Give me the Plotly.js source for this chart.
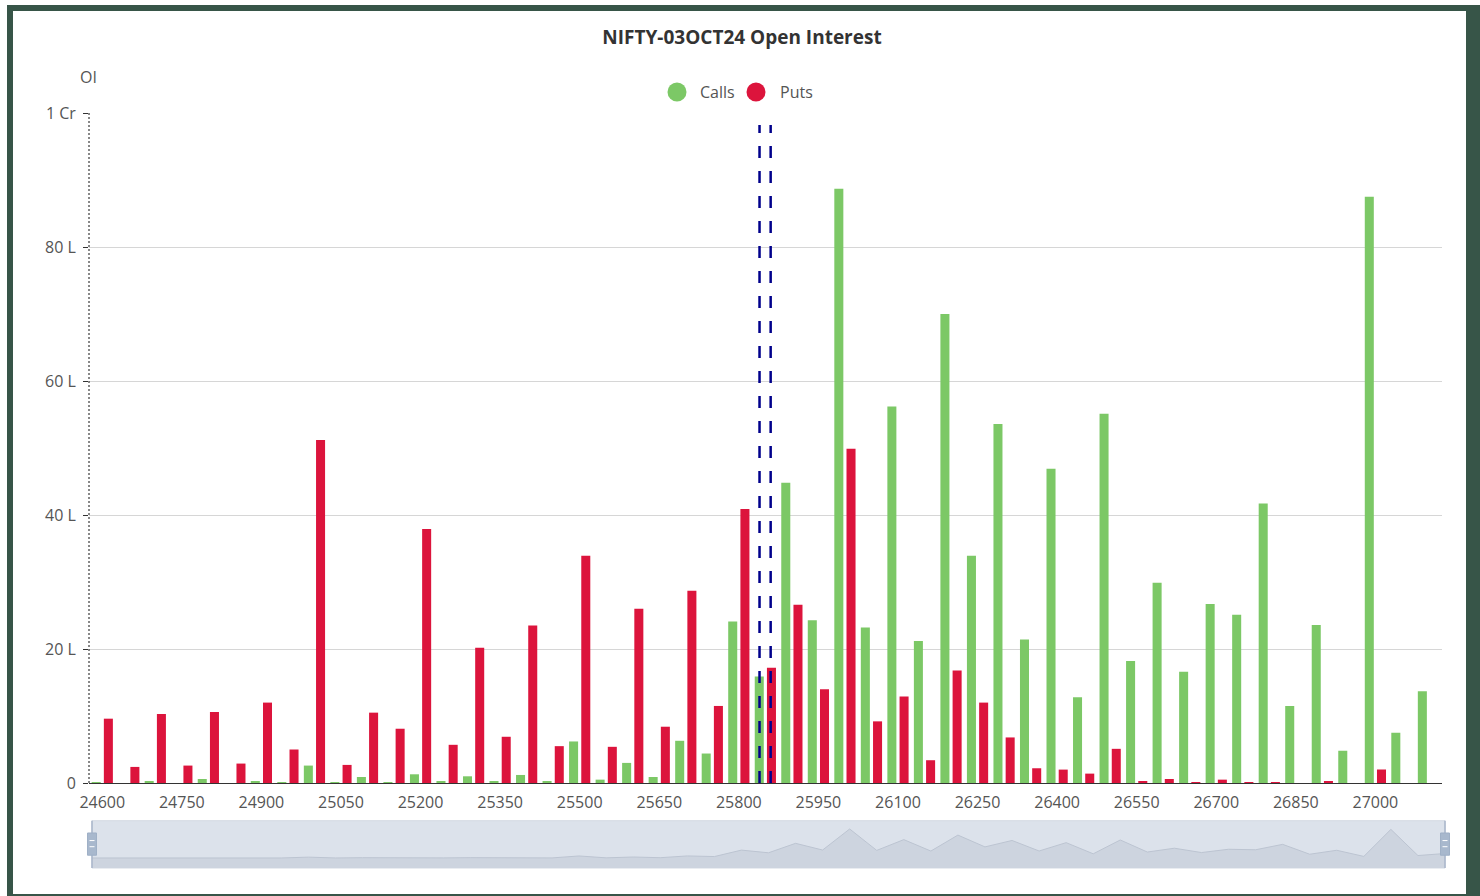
<!DOCTYPE html>
<html>
<head>
<meta charset="utf-8">
<script src="https://cdn.plot.ly/plotly-3.0.1.min.js"></script>
<style>
  html, body { margin: 0; padding: 0; width: 1480px; height: 896px; overflow: hidden; background: #ffffff; }
  #frame { position: absolute; left: 7px; top: 5px; width: 1473px; height: 891px; box-sizing: border-box;
           border-style: solid; border-color: #375548; border-width: 6px 14px 2px 6px; background: #ffffff; }
  #chart { position: absolute; left: 0; top: 0; width: 1480px; height: 896px; }
</style>
</head>
<body>
<div id="frame"></div>
<div id="chart"></div>
<script>
// ---- data (OI in lakhs) ----
const strikes = [24600, 24650, 24700, 24750, 24800, 24850, 24900, 24950, 25000, 25050,
                 25100, 25150, 25200, 25250, 25300, 25350, 25400, 25450, 25500, 25550,
                 25600, 25650, 25700, 25750, 25800, 25850, 25900, 25950, 26000, 26050,
                 26100, 26150, 26200, 26250, 26300, 26350, 26400, 26450, 26500, 26550,
                 26600, 26650, 26700, 26750, 26800, 26850, 26900, 26950, 27000, 27050, 27100];
const callsOI = [0.1, 0.0, 0.3, 0.0, 0.6, 0.0, 0.3, 0.1, 2.6, 0.1,
                 0.9, 0.1, 1.3, 0.3, 1.0, 0.25, 1.2, 0.25, 6.2, 0.5,
                 3.0, 0.9, 6.3, 4.4, 24.1, 15.9, 44.8, 24.3, 88.7, 23.2,
                 56.2, 21.2, 70.0, 33.9, 53.6, 21.4, 46.9, 12.8, 55.1, 18.2,
                 29.9, 16.6, 26.7, 25.1, 41.7, 11.5, 23.6, 4.8, 87.5, 7.5, 13.7];
const putsOI  = [9.6, 2.4, 10.3, 2.6, 10.6, 2.9, 12.0, 5.0, 51.2, 2.7,
                 10.5, 8.1, 37.9, 5.7, 20.2, 6.9, 23.5, 5.5, 33.9, 5.4,
                 26.0, 8.4, 28.7, 11.5, 40.9, 17.2, 26.6, 14.0, 49.9, 9.2,
                 12.9, 3.4, 16.8, 12.0, 6.8, 2.2, 2.0, 1.4, 5.1, 0.3,
                 0.6, 0.15, 0.5, 0.15, 0.15, 0.0, 0.3, 0.0, 2.0, 0.0, 0.0];
const tickStrikes = [24600, 24750, 24900, 25050, 25200, 25350, 25500, 25650, 25800,
                     25950, 26100, 26250, 26400, 26550, 26700, 26850, 27000];
const tickLabels = ['24600', '24750', '24900', '25050', '25200', '25350', '25500', '25650', '25800',
                    '25950', '26100', '26250', '26400', '26550', '26700', '26850', '27000'];
const yTickVals = [0, 20, 40, 60, 80, 100];
const yTickLabels = ['0', '20 L', '40 L', '60 L', '80 L', '1 Cr'];
const markLevels = [25839, 25860];   // spot / futures markers
const seriesNames = ['Calls', 'Puts'];

// ---- styles ----
const GREEN = '#7cc866';
const RED = '#dc143c';
const FONT = 'Open Sans, Noto Sans, sans-serif';
const LABEL = '#555555';

const halfStep = 25;
const boundaryTicks = tickStrikes.map(s => s - halfStep).concat([strikes[strikes.length - 1] + halfStep]);
const xRange = [strikes[0] - halfStep, strikes[strikes.length - 1] + halfStep];

const traces = [
  { type: 'bar', name: seriesNames[0], x: strikes, y: callsOI, marker: { color: GREEN },
    xaxis: 'x', yaxis: 'y', hoverinfo: 'x+y+name' },
  { type: 'bar', name: seriesNames[1], x: strikes, y: putsOI, marker: { color: RED },
    xaxis: 'x', yaxis: 'y', hoverinfo: 'x+y+name' },
  // data-zoom shadow
  { type: 'scatter', mode: 'lines', x: strikes, y: callsOI, xaxis: 'x2', yaxis: 'y2',
    fill: 'tozeroy', fillcolor: '#cdd4df', line: { color: '#bcc4d1', width: 1 },
    hoverinfo: 'skip', showlegend: false }
];

const shapes = [
  // slider background
  { type: 'rect', xref: 'x2 domain', yref: 'y2 domain', x0: 0, x1: 1, y0: 0, y1: 1,
    fillcolor: '#dce2eb', line: { color: '#d3d9e3', width: 1 }, layer: 'below' },
  // shadow band below zero
  { type: 'rect', xref: 'x2 domain', yref: 'y2', x0: 0, x1: 1, y0: -30.6, y1: 0,
    fillcolor: '#cdd4df', line: { width: 0 }, layer: 'below' },
  // slider edges
  { type: 'line', xref: 'x2 domain', yref: 'y2 domain', x0: 0, x1: 0, y0: 0, y1: 1,
    line: { color: '#a9b6ca', width: 1.5 } },
  { type: 'line', xref: 'x2 domain', yref: 'y2 domain', x0: 1, x1: 1, y0: 0, y1: 1,
    line: { color: '#a9b6ca', width: 1.5 } },
  // dotted y-axis line
  { type: 'line', xref: 'x domain', yref: 'y domain', x0: 0, x1: 0, y0: 0, y1: 1,
    line: { color: '#111111', width: 1, dash: '2px,2px' } }
];
// slider handles
[0, 1].forEach(function (ax) {
  shapes.push({ type: 'rect', xref: 'x2 domain', yref: 'y2 domain', xsizemode: 'pixel', xanchor: ax,
    x0: -4.5, x1: 4.5, y0: 0.27, y1: 0.74, fillcolor: '#a8b8cd', line: { color: '#9fb0c6', width: 1 } });
  [0.45, 0.58].forEach(function (yy) {
    shapes.push({ type: 'line', xref: 'x2 domain', yref: 'y2 domain', xsizemode: 'pixel', xanchor: ax,
      x0: -2.5, x1: 2.5, y0: yy, y1: yy, line: { color: '#ffffff', width: 1 } });
  });
});
// mark lines
markLevels.forEach(function (lv) {
  shapes.push({ type: 'line', xref: 'x', yref: 'y', x0: lv, x1: lv, y0: 0, y1: 98.2,
    line: { color: '#00008b', width: 2.5, dash: '12px,13px' } });
});
// legend symbols
const legendX = [(677 - 89) / 1356, (756 - 89) / 1356];
const legendY = (868 - 92) / 755;
[GREEN, RED].forEach(function (c, i) {
  shapes.push({ type: 'circle', xref: 'paper', yref: 'paper', xsizemode: 'pixel', ysizemode: 'pixel',
    xanchor: legendX[i], yanchor: legendY, x0: -9.5, x1: 9.5, y0: -9.5, y1: 9.5,
    fillcolor: c, line: { width: 0 } });
});

const annotations = [
  { text: seriesNames[0], xref: 'paper', yref: 'paper', x: (698 - 89) / 1356, y: legendY,
    xanchor: 'left', yanchor: 'middle', showarrow: false, font: { family: FONT, size: 16, color: LABEL } },
  { text: seriesNames[1], xref: 'paper', yref: 'paper', x: (778 - 89) / 1356, y: legendY,
    xanchor: 'left', yanchor: 'middle', showarrow: false, font: { family: FONT, size: 16, color: LABEL } },
  { text: 'OI', xref: 'paper', yref: 'paper', x: (88.5 - 89) / 1356, y: (868 - 77) / 755,
    xanchor: 'center', yanchor: 'middle', showarrow: false, font: { family: FONT, size: 16, color: LABEL } }
];

const layout = {
  width: 1480, height: 896, autosize: false,
  margin: { l: 89, r: 35, t: 113, b: 28, pad: 0 },
  paper_bgcolor: 'rgba(0,0,0,0)', plot_bgcolor: 'rgba(0,0,0,0)',
  font: { family: FONT, color: LABEL },
  title: { text: 'NIFTY-03OCT24 Open Interest', xref: 'container', yref: 'container',
    x: 742 / 1480, xanchor: 'center', y: 1 - 37 / 896, yanchor: 'middle',
    font: { family: FONT, size: 19, color: '#333333', weight: 'bold' } },
  showlegend: false,
  barmode: 'group', bargap: 0.08, bargroupgap: 0.26,
  xaxis: { domain: [0, 0.99757], range: xRange, anchor: 'y', type: 'linear',
    tickmode: 'array', tickvals: tickStrikes, ticktext: tickLabels,
    ticks: 'outside', ticklen: 5, tickcolor: 'rgba(0,0,0,0)',
    tickfont: { family: FONT, size: 16, color: LABEL },
    showline: true, linecolor: '#333333', linewidth: 1, showgrid: false, zeroline: false, fixedrange: true },
  xaxis3: { overlaying: 'x', anchor: 'y', range: xRange, type: 'linear',
    tickmode: 'array', tickvals: boundaryTicks, ticks: 'outside', ticklen: 6, tickcolor: '#333333',
    showticklabels: false, showline: false, showgrid: false, zeroline: false, fixedrange: true },
  yaxis: { domain: [85 / 755, 1], range: [0, 100], anchor: 'x',
    tickmode: 'array', tickvals: yTickVals, ticktext: yTickLabels,
    ticks: 'outside', ticklen: 5, tickcolor: '#333333', ticklabelstandoff: 4,
    tickfont: { family: FONT, size: 16, color: LABEL },
    showgrid: true, gridcolor: '#d6d6d6', gridwidth: 1, showline: false, zeroline: false, fixedrange: true },
  xaxis2: { domain: [3 / 1356, 1], range: [strikes[0], strikes[strikes.length - 1]], anchor: 'y2', visible: false, fixedrange: true },
  yaxis2: { domain: [0, 47.3 / 755], range: [-30.6, 114], anchor: 'x2', visible: false, fixedrange: true },
  shapes: shapes,
  annotations: annotations
};

Plotly.newPlot('chart', traces, layout, { displayModeBar: false, responsive: false });
</script>
</body>
</html>
